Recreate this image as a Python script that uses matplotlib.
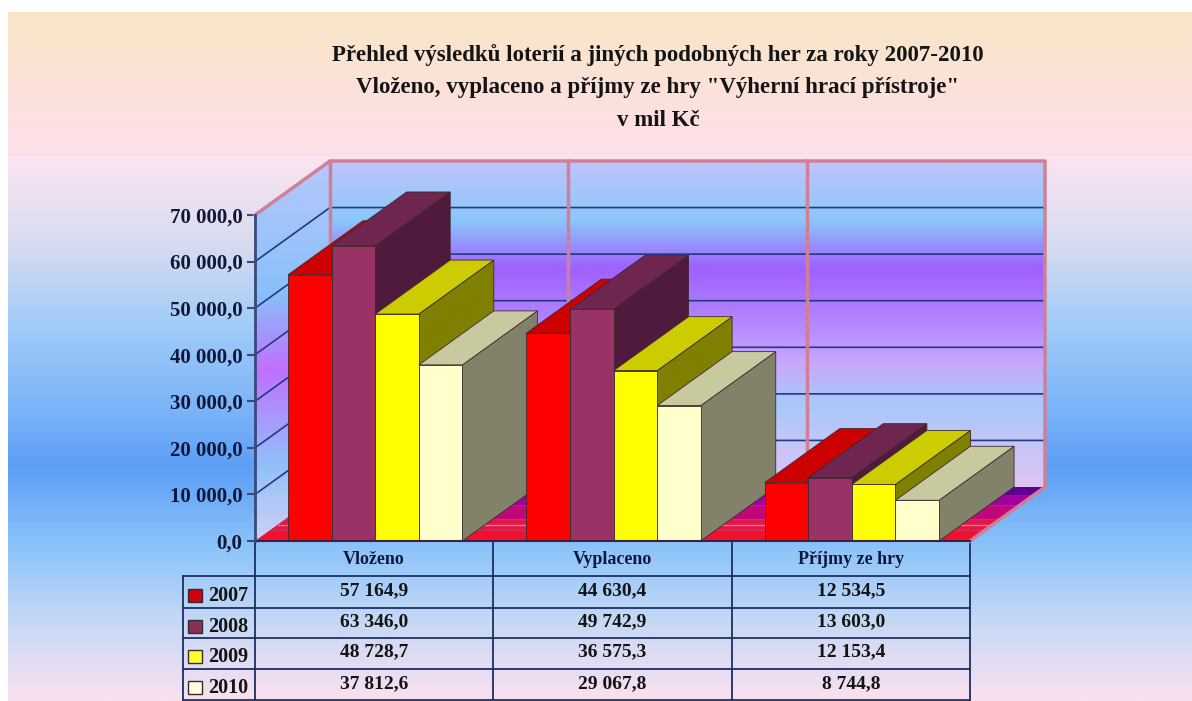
import numpy as np
import matplotlib
matplotlib.use('Agg')
import matplotlib.pyplot as plt
from matplotlib.colors import LinearSegmentedColormap
from matplotlib.patches import Polygon, Rectangle

W = 1192
H = 701

categories = ['Vloženo', 'Vyplaceno', 'Příjmy ze hry']
years = ['2007', '2008', '2009', '2010']
v2007 = [57164.9, 44630.4, 12534.5]
v2008 = [63346.0, 49742.9, 13603.0]
v2009 = [48728.7, 36575.3, 12153.4]
v2010 = [37812.6, 29067.8, 8744.8]
series = [v2007, v2008, v2009, v2010]
y_ticks = [0, 10000, 20000, 30000, 40000, 50000, 60000, 70000]

# front, top, side
bar_colors = [('#ff0000', '#cc0000', '#990000'),
              ('#993366', '#6e2550', '#4f1a3c'),
              ('#ffff00', '#cccc00', '#808000'),
              ('#ffffcc', '#c9c99f', '#82826a')]
legend_colors = ['#d00010', '#8a3050', '#ffff30', '#ffffe0']

title = ['Přehled výsledků loterií a jiných podobných her za roky 2007-2010',
         'Vloženo, vyplaceno a příjmy ze hry "Výherní hrací přístroje"',
         'v mil Kč']

text_col = '#10183a'
serif = ['Liberation Serif', 'DejaVu Serif']


def fmt(v):
    return f'{v:,.1f}'.replace(',', ' ').replace('.', ',')


def gradient(ax, stops, x0, x1, y0, y1, clip=None):
    cmap = LinearSegmentedColormap.from_list('g', stops)
    im = ax.imshow(np.linspace(0, 1, 256).reshape(-1, 1), cmap=cmap, aspect='auto',
                   extent=(x0, x1, y1, y0), interpolation='bilinear', vmin=0, vmax=1)
    if clip is not None:
        poly = Polygon(clip, closed=True, transform=ax.transData, fc='none', ec='none')
        ax.add_patch(poly)
        im.set_clip_path(poly)


fig = plt.figure(figsize=(W / 100, H / 100), dpi=100, facecolor='white')

# background and table, in pixels
bg = fig.add_axes([0, 0, 1, 1], zorder=0)
bg.set_xlim(0, W)
bg.set_ylim(H, 0)
bg.axis('off')

gradient(bg, [(0, '#f8e6c6'), (0.5, '#fbe2d8'), (1, '#fde0ea')], 8, W, 12, 156)
gradient(bg, [(0, '#fbe4f2'), (0.16, '#d8dcf0'), (0.3, '#a4cdf8'), (0.5, '#72aef8'),
              (0.57, '#5c9ef6'), (0.72, '#8cc4fa'), (0.85, '#c4d8f6'), (1, '#fbe0f0')],
         8, W, 156, H)

wall_stops = [(0, '#c0c4fa'), (0.18, '#8cc8fa'), (0.33, '#a060ff'), (0.5, '#b488fe'),
              (0.62, '#c8a8fc'), (0.74, '#a8c8fa'), (1, '#e0c4f4')]
gradient(bg, wall_stops, 330, 1045, 160, 488)
gradient(bg, [(0, '#b8c8fa'), (0.35, '#88c0fa'), (0.55, '#c070ff'), (0.8, '#90c0fa'), (1, '#d0d0f4')],
         255, 330, 160, 541, clip=[(255, 541), (330, 487), (330, 161), (255, 215)])

line_col = '#1c3060'
col_x = [255, 493, 732, 970]
row_y = [576, 608, 638, 669, 700]
label_y = [596, 627, 657, 688]
value_y = [591, 622, 652, 684]

for yy in row_y:
    bg.plot([183, 970], [yy, yy], color=line_col, lw=1.3)
bg.plot([183, 183], [row_y[0], row_y[-1]], color=line_col, lw=1.3)
for xx in col_x:
    bg.plot([xx, xx], [541, row_y[-1]], color=line_col, lw=1.3)

for i, cat in enumerate(categories):
    xc = (col_x[i] + col_x[i + 1]) / 2
    bg.text(xc, 560, cat, ha='center', va='center', family=serif, weight='bold',
            fontsize=13, color=text_col)
    for j, s in enumerate(series):
        bg.text(xc, value_y[j], fmt(s[i]), ha='center', va='center', family=serif,
                weight='bold', fontsize=14, color='#141414')

for j, yr in enumerate(years):
    bg.add_patch(Rectangle((188, label_y[j] - 7), 14, 13, fc=legend_colors[j], ec='#303030', lw=1))
    bg.text(228, label_y[j], yr, ha='center', va='center', family=serif, weight='bold',
            fontsize=14.5, color='#141414')

for i, line in enumerate(title):
    bg.text(658, [55, 87, 120][i], line, ha='center', va='center', family=serif, weight='bold',
            fontsize=16.5, color='#141414')

# chart, in data units
ax = fig.add_axes([255 / W, (H - 541) / H, 715 / W, 326 / H], zorder=1)
ax.set_xlim(0, 3)
ax.set_ylim(0, 70000)
ax.patch.set_alpha(0)
for side in ['top', 'right', 'bottom']:
    ax.spines[side].set_visible(False)
ax.spines['left'].set_color('#3a4a78')
ax.spines['left'].set_linewidth(2)
ax.spines['left'].set_zorder(6)
ax.set_xticks([])
ax.set_yticks(y_ticks)
ax.set_yticklabels([fmt(v) for v in y_ticks], family=serif, weight='bold', fontsize=15, color=text_col)
ax.tick_params(axis='y', length=6, width=1.5, color='#3a4a78', pad=3)

dx = 75 / 715 * 3
dy = 54 / 326 * 70000
offset = 33 / 238.33
width = 43.6 / 238.33


def add_poly(pts, **kw):
    ax.add_patch(Polygon(pts, closed=True, clip_on=False, **kw))


# floor bands from front to back
bands = [(0.0, 0.2, '#f01030'), (0.2, 0.4, '#e01848'), (0.4, 0.66, '#c00878'),
         (0.66, 0.85, '#a000a0'), (0.85, 1.0, '#600090')]
for d0, d1, col in bands:
    add_poly([(d0 * dx, d0 * dy), (3 + d0 * dx, d0 * dy), (3 + d1 * dx, d1 * dy), (d1 * dx, d1 * dy)],
             fc=col, ec='none', zorder=1)
ax.plot([0.3 * dx, 3 + 0.3 * dx], [0.3 * dy, 0.3 * dy], color='#ff7080', lw=1, clip_on=False, zorder=1)

# grid on the walls
for v in y_ticks[1:]:
    ax.plot([0, dx, 3 + dx], [v, v + dy, v + dy], color='#243a80', lw=1.2, clip_on=False, zorder=1)

# wall frame
frame = '#cf8098'
ax.plot([0, dx, 3 + dx, 3 + dx, 3], [70000, 70000 + dy, 70000 + dy, dy, 0], color=frame, lw=2.5,
        clip_on=False, zorder=2)
for xb in [0, 1, 2]:
    ax.plot([xb + dx, xb + dx], [dy, 70000 + dy], color=frame, lw=2.5, clip_on=False, zorder=2)
ax.plot([0, 3], [0, 0], color='#402040', lw=1.5, clip_on=False, zorder=6)

# bars
z = 3
for i in range(len(categories)):
    for j, s in enumerate(series):
        x0 = i + offset + j * width
        x1 = x0 + width
        v = s[i]
        front, top, side = bar_colors[j]
        ec = '#3a2a30'
        add_poly([(x1, 0), (x1 + dx, dy), (x1 + dx, v + dy), (x1, v)], fc=side, ec=ec, lw=0.6, zorder=z)
        add_poly([(x0, v), (x0 + dx, v + dy), (x1 + dx, v + dy), (x1, v)], fc=top, ec=ec, lw=0.6, zorder=z)
        ax.bar(x0, v, width=width, align='edge', color=front, edgecolor=ec, lw=0.6, zorder=z, clip_on=False)
        z += 0.01

fig.savefig('out.png', dpi=100)
